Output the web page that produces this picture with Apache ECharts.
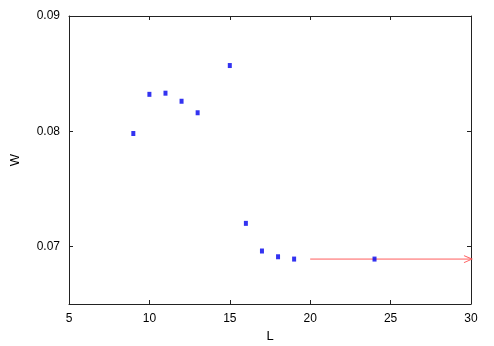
<!DOCTYPE html>
<html>
<head>
<meta charset="utf-8">
<script src="https://cdn.jsdelivr.net/npm/echarts@6/dist/echarts.min.js"></script>
<style>
  html, body { margin: 0; padding: 0; background: #fff; }
  #chart { width: 494px; height: 346px; }
</style>
</head>
<body>
<div id="chart"></div>
<script>
  // measured points (L, W)
  var sizesL = [9, 10, 11, 12, 13, 15, 16, 17, 18, 19, 24];
  var valuesW = [0.0798, 0.0832, 0.0833, 0.0826, 0.0816, 0.0857, 0.0720, 0.0696, 0.0691, 0.0689, 0.0689];
  // arrow: start/end L and W level
  var arrowL = [20, 30];
  var arrowW = 0.0689;
  var xTicks = [5, 10, 15, 20, 25, 30];
  var yTicks = [0.07, 0.08, 0.09];

  var font = 'Liberation Sans, Arial, sans-serif';
  var chart = echarts.init(document.getElementById('chart'));

  var points = sizesL.map(function (l, i) { return [l, valuesW[i]]; });

  function xAxis(pos, showLabel) {
    return {
      type: 'value', position: pos, min: 5, max: 30, interval: 5,
      name: showLabel ? 'L' : '', nameLocation: 'middle', nameGap: 21,
      nameTextStyle: { fontFamily: font, fontSize: 13, color: '#000' },
      axisLine: { show: true, onZero: false, lineStyle: { color: '#222', width: 1 } },
      axisTick: { show: true, inside: true, length: 4, lineStyle: { color: '#222' } },
      axisLabel: { show: showLabel, fontFamily: font, fontSize: 12, color: '#000', margin: 9 },
      splitLine: { show: false }
    };
  }

  function yAxis(pos, showLabel) {
    return {
      type: 'value', position: pos, min: 0.065, max: 0.09,
      name: showLabel ? 'W' : '', nameLocation: 'middle', nameGap: 47, nameRotate: 90,
      nameTextStyle: { fontFamily: font, fontSize: 13, color: '#000' },
      axisLine: { show: true, onZero: false, lineStyle: { color: '#222', width: 1 } },
      axisTick: { show: true, inside: true, length: 4, customValues: yTicks, lineStyle: { color: '#222' } },
      axisLabel: {
        show: showLabel, customValues: yTicks, fontFamily: font, fontSize: 12, color: '#000', margin: 9,
        formatter: function (v) { return v.toFixed(2); }
      },
      splitLine: { show: false }
    };
  }

  var option = {
    animation: false,
    backgroundColor: '#fff',
    grid: { left: 69, right: 23, top: 16, bottom: 42, outerBoundsMode: 'none' },
    xAxis: [xAxis('bottom', true), xAxis('top', false)],
    yAxis: [yAxis('left', true), yAxis('right', false)],
    series: [
      {
        type: 'line',
        data: [
          { value: [arrowL[0], arrowW], symbol: 'none' },
          { value: [arrowL[1], arrowW], symbol: 'path://M0,0 L5,10 L10,0', symbolSize: [7, 8], symbolRotate: 90, symbolOffset: [-3, 0] }
        ],
        showSymbol: true,
        lineStyle: { color: '#ff5c5c', width: 1 },
        itemStyle: { color: 'transparent', borderColor: '#ff5c5c', borderWidth: 1 },
        z: 1
      },
      {
        type: 'scatter',
        data: points,
        symbol: 'rect',
        symbolSize: [4, 5],
        itemStyle: { color: '#0000ee' },
        z: 2
      }
    ]
  };

  chart.setOption(option);
</script>
</body>
</html>
